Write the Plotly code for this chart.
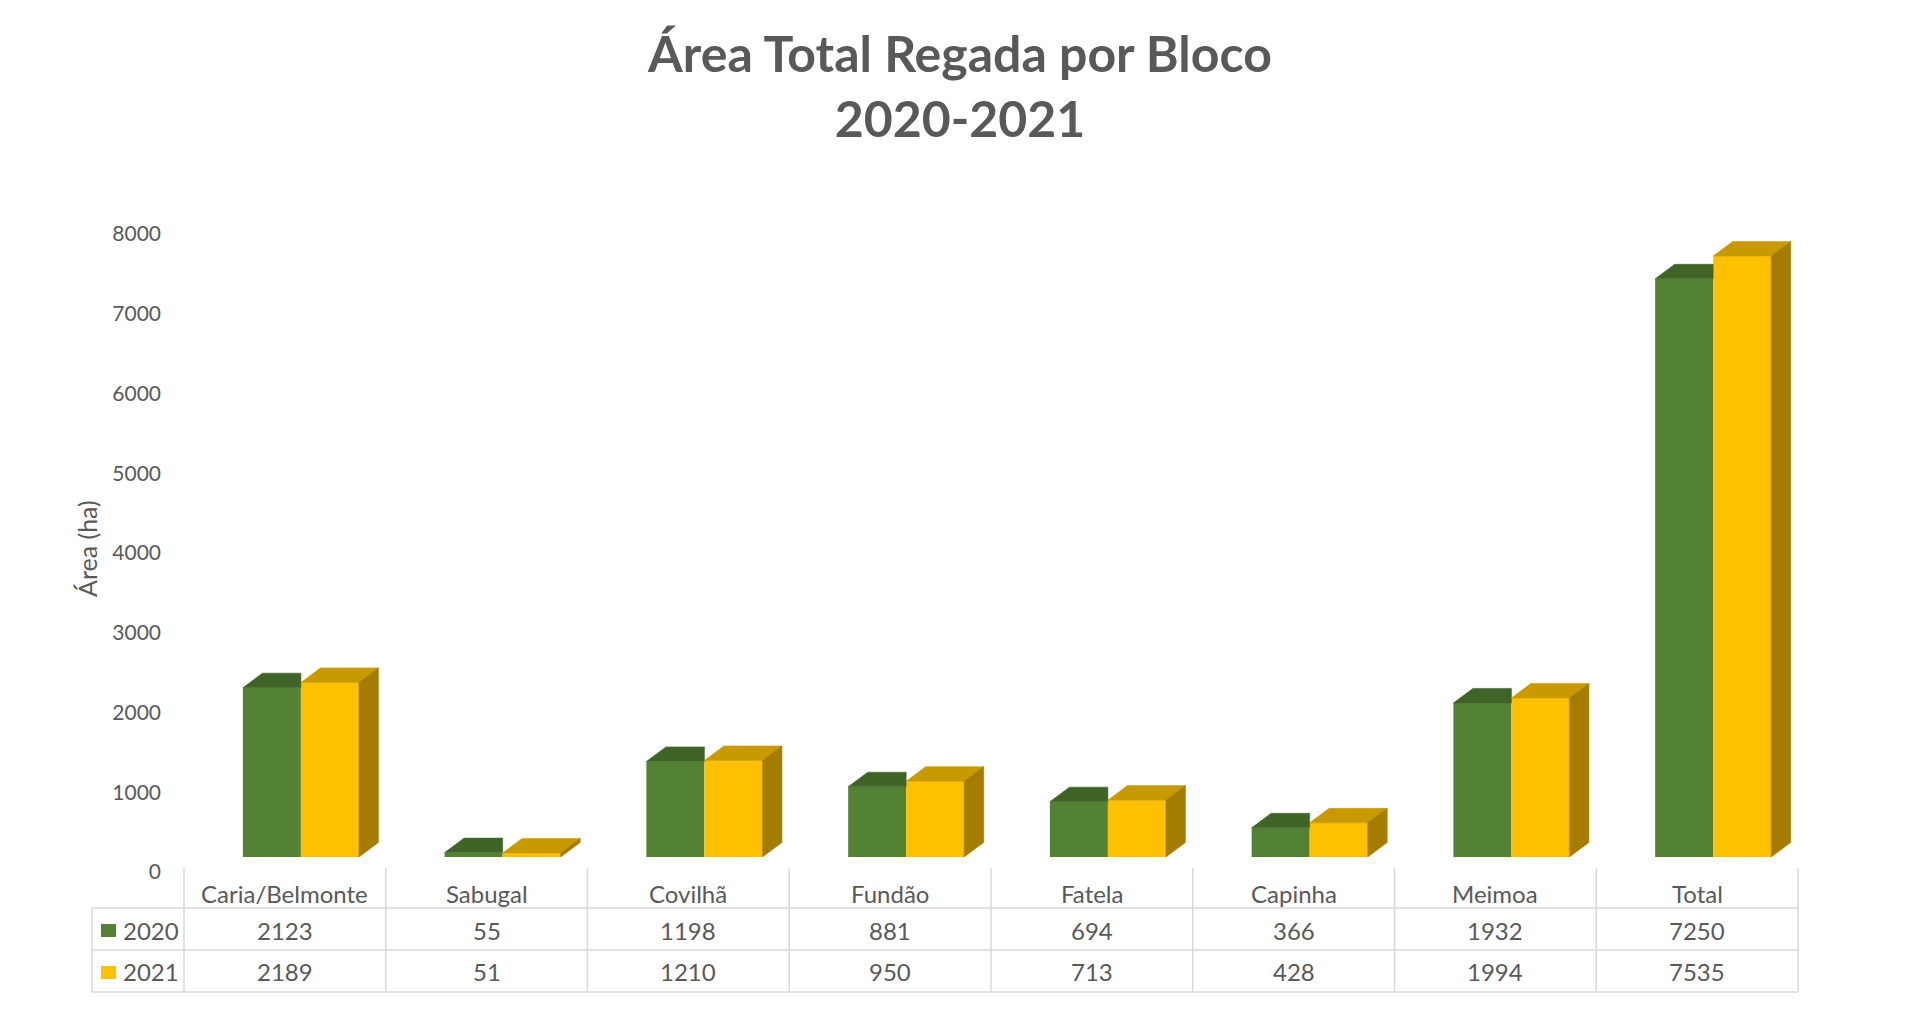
import plotly.graph_objects as go

# ---------------- data ----------------
categories = ["Caria/Belmonte", "Sabugal", "Covilhã", "Fundão", "Fatela", "Capinha", "Meimoa", "Total"]
series_names = ["2020", "2021"]
values_2020 = [2123, 55, 1198, 881, 694, 366, 1932, 7250]
values_2021 = [2189, 51, 1210, 950, 713, 428, 1994, 7535]
y_ticks = [0, 1000, 2000, 3000, 4000, 5000, 6000, 7000, 8000]

# ---------------- style / geometry ----------------
W, H = 1920, 1011
PL, PR = 184, 1798          # plot area left/right (px)
PT, PB = 219, 857           # plot area top/bottom (px)
YMAX = 8000
FONT = "Lato"
TXT = "#595959"
GRID = "#D9D9D9"
GREEN, GREEN_TOP = "#548235", "#3F6428"
YEL, YEL_TOP, YEL_SIDE = "#FFC000", "#C99A00", "#A47D00"

BAR_W = 0.2875              # bar width in category units
OFF_G, OFF_Y = -0.208, 0.0795
DX = 0.0967                 # 3D depth in category units
DY = 182                    # 3D depth in value units

n = len(categories)
xs = list(range(n))


def px_x(p):
    return (p - PL) / (PR - PL)


def px_y(p):
    return (PB - p) / (PB - PT)


def poly_trace(polys, color):
    X, Y = [], []
    for pts in polys:
        for (a, b) in pts + [pts[0]]:
            X.append(a)
            Y.append(b)
        X.append(None)
        Y.append(None)
    return go.Scatter(x=X, y=Y, mode="lines", fill="toself", fillcolor=color,
                      line=dict(color=color, width=0.6), hoverinfo="skip",
                      showlegend=False)


fig = go.Figure()
fig.add_trace(go.Bar(x=xs, y=values_2020, name="2020", marker=dict(color=GREEN, line=dict(width=0)),
                     width=BAR_W, offset=OFF_G, showlegend=False))
fig.add_trace(go.Bar(x=xs, y=values_2021, name="2021", marker=dict(color=YEL, line=dict(width=0)),
                     width=BAR_W, offset=OFF_Y, showlegend=False))

green_tops, yel_tops, yel_sides = [], [], []
for i in xs:
    g, y = values_2020[i], values_2021[i]
    gx0, gx1 = i + OFF_G, i + OFF_G + BAR_W
    yx0, yx1 = i + OFF_Y, i + OFF_Y + BAR_W
    green_tops.append([(gx0, g), (gx0 + DX, g + DY), (gx1, g + DY), (gx1, g)])
    yel_tops.append([(yx0, y), (yx0 + DX, y + DY), (yx1 + DX, y + DY), (yx1, y)])
    yel_sides.append([(yx1, 0), (yx1 + DX, DY), (yx1 + DX, y + DY), (yx1, y)])
fig.add_trace(poly_trace(green_tops, GREEN_TOP))
fig.add_trace(poly_trace(yel_tops, YEL_TOP))
fig.add_trace(poly_trace(yel_sides, YEL_SIDE))

# ---------------- data table ----------------
shapes = []
TBL_L = 92
ROW_LINES = [908, 950, 992]
for ry in ROW_LINES:
    shapes.append(dict(type="line", xref="paper", yref="paper", x0=px_x(TBL_L), x1=1,
                       y0=px_y(ry), y1=px_y(ry), line=dict(color=GRID, width=1.5)))
shapes.append(dict(type="line", xref="paper", yref="paper", x0=px_x(TBL_L), x1=px_x(TBL_L),
                   y0=px_y(908), y1=px_y(992), line=dict(color=GRID, width=1.5)))
for k in range(n + 1):
    shapes.append(dict(type="line", xref="paper", yref="paper", x0=k / n, x1=k / n,
                       y0=px_y(868), y1=px_y(992), line=dict(color=GRID, width=1.5)))

annotations = []
row_y = [893, 930, 972]
rows = [categories, [str(v) for v in values_2020], [str(v) for v in values_2021]]
for r, texts in enumerate(rows):
    for i, t in enumerate(texts):
        annotations.append(dict(text=t, xref="paper", yref="paper", x=(i + 0.5) / n, y=px_y(row_y[r]),
                                xanchor="center", yanchor="middle", showarrow=False,
                                font=dict(family=FONT, size=24, color=TXT)))
for r, (nm, col) in enumerate(zip(series_names, [GREEN, YEL])):
    cy = row_y[r + 1]
    shapes.append(dict(type="rect", xref="paper", yref="paper", x0=px_x(101), x1=px_x(116),
                       y0=px_y(cy + 7), y1=px_y(cy - 6), fillcolor=col, line=dict(width=0)))
    annotations.append(dict(text=nm, xref="paper", yref="paper", x=px_x(121), y=px_y(cy),
                            xanchor="left", yanchor="middle", showarrow=False,
                            font=dict(family=FONT, size=24, color=TXT)))

# axis title
annotations.append(dict(text="Área (ha)", xref="paper", yref="paper", x=px_x(87), y=px_y(549),
                        xanchor="center", yanchor="middle", textangle=-90, showarrow=False,
                        font=dict(family=FONT, size=25, color=TXT)))

fig.update_layout(
    width=W, height=H,
    margin=dict(l=PL, r=W - PR, t=PT, b=H - PB, pad=0),
    paper_bgcolor="white", plot_bgcolor="white",
    title=dict(text="<b>Área Total Regada por Bloco<br>2020-2021</b>", x=0.5, xanchor="center",
               y=1 - 72 / H, yanchor="middle", yref="container",
               font=dict(family=FONT, size=50, color=TXT)),
    barmode="overlay",
    showlegend=False,
    shapes=shapes,
    annotations=annotations,
    xaxis=dict(range=[-0.5, n - 0.5], showgrid=False, zeroline=False, showline=False,
               showticklabels=False, fixedrange=True),
    yaxis=dict(range=[0, YMAX], tickvals=y_ticks, ticktext=[str(v) for v in y_ticks],
               showgrid=False, zeroline=False, showline=False, ticks="",
               tickfont=dict(family=FONT, size=21, color=TXT),
               ticklabelshift=15, ticklabelstandoff=22, fixedrange=True),
)

fig.write_html("out.html", config={"displayModeBar": False},
               post_script="document.body.style.margin='0';document.body.style.overflow='hidden';")
